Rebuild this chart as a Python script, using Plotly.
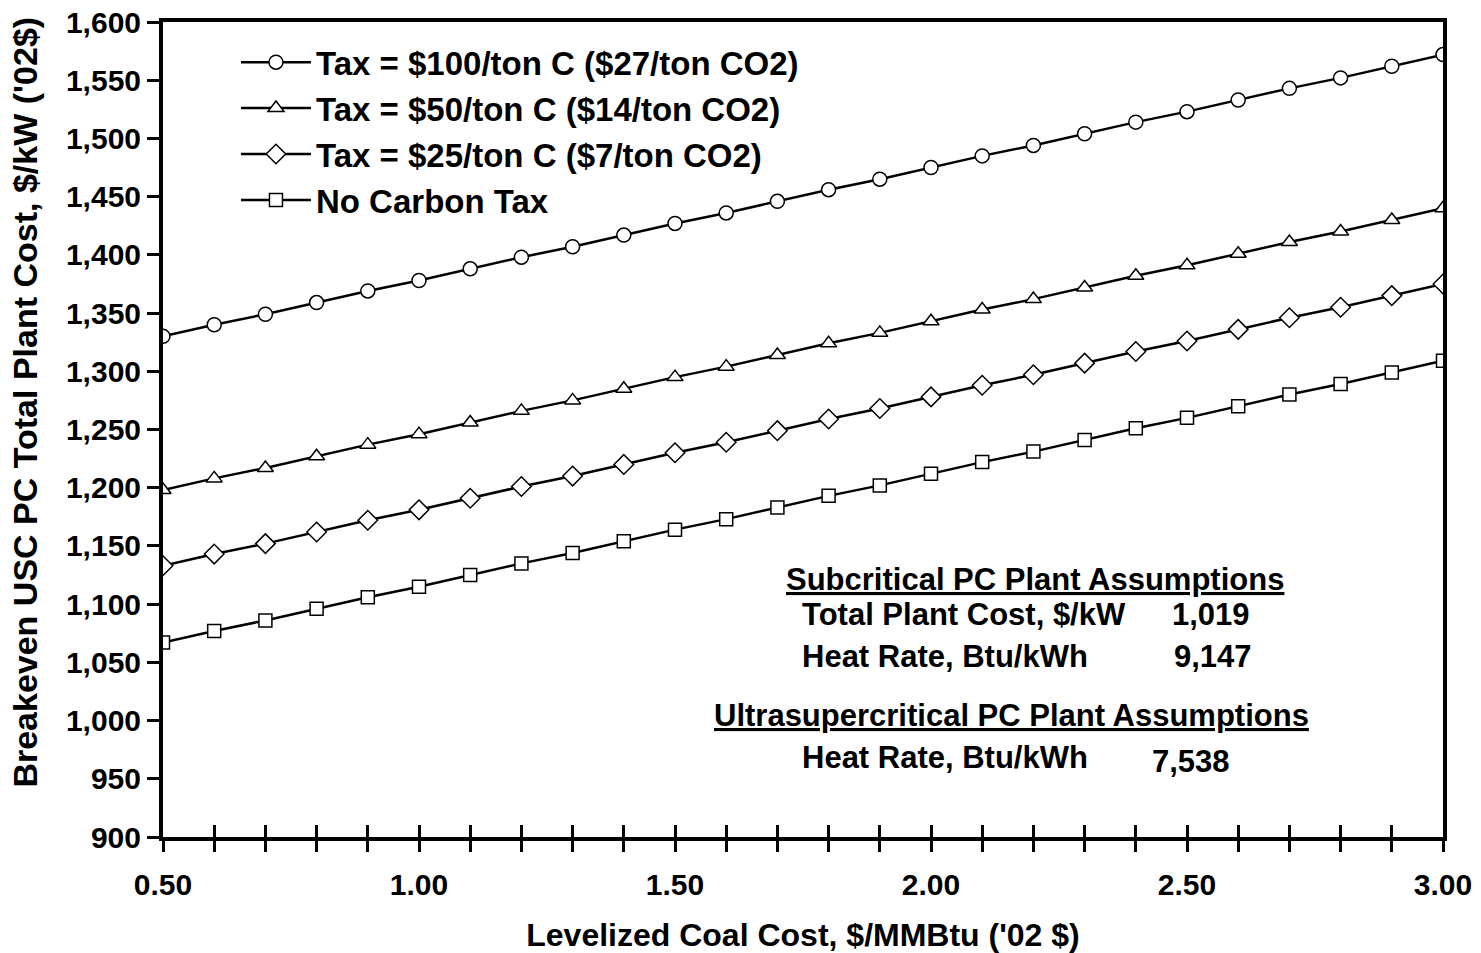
import plotly.graph_objects as go

coal_cost = [0.5, 0.6, 0.7, 0.8, 0.9, 1.0, 1.1, 1.2, 1.3, 1.4, 1.5, 1.6, 1.7,
             1.8, 1.9, 2.0, 2.1, 2.2, 2.3, 2.4, 2.5, 2.6, 2.7, 2.8, 2.9, 3.0]

tax_100 = [1330, 1340, 1349, 1359, 1369, 1378, 1388, 1398, 1407, 1417, 1427, 1436, 1446,
           1456, 1465, 1475, 1485, 1494, 1504, 1514, 1523, 1533, 1543, 1552, 1562, 1572]
tax_50 = [1198, 1208, 1217, 1227, 1237, 1246, 1256, 1266, 1275, 1285, 1295, 1304, 1314,
          1324, 1333, 1343, 1353, 1362, 1372, 1382, 1391, 1401, 1411, 1420, 1430, 1440]
tax_25 = [1133, 1143, 1152, 1162, 1172, 1181, 1191, 1201, 1210, 1220, 1230, 1239, 1249,
          1259, 1268, 1278, 1288, 1297, 1307, 1317, 1326, 1336, 1346, 1355, 1365, 1375]
no_tax = [1067, 1077, 1086, 1096, 1106, 1115, 1125, 1135, 1144, 1154, 1164, 1173, 1183,
          1193, 1202, 1212, 1222, 1231, 1241, 1251, 1260, 1270, 1280, 1289, 1299, 1309]

series_names = ["Tax = $100/ton C ($27/ton CO2)", "Tax = $50/ton C ($14/ton CO2)",
                "Tax = $25/ton C ($7/ton CO2)", "No Carbon Tax"]
series_values = [tax_100, tax_50, tax_25, no_tax]
series_symbols = ["circle", "triangle-up", "diamond", "square"]
series_sizes = [14, 14, 15, 13]

x_tickvals = [0.5, 1.0, 1.5, 2.0, 2.5, 3.0]
x_ticktext = ["0.50", "1.00", "1.50", "2.00", "2.50", "3.00"]

FONT = "Liberation Sans, Arial, sans-serif"

fig = go.Figure()
for i, (name, vals, sym, sz) in enumerate(zip(series_names, series_values, series_symbols, series_sizes)):
    fig.add_trace(go.Scatter(
        x=coal_cost, y=vals, name=name, mode="lines+markers",
        legendgroup=f"g{i}",
        line=dict(color="black", width=2.5),
        marker=dict(symbol=sym, size=sz, color="white",
                    line=dict(color="black", width=1.5)),
    ))

# invisible trace on overlay axis for inside ticks
fig.add_trace(go.Scatter(x=[coal_cost[0]], y=[no_tax[0]], xaxis="x2", mode="markers",
                         marker=dict(opacity=0), showlegend=False, hoverinfo="skip"))

fig.update_layout(
    template="none",
    width=1481, height=953,
    margin=dict(l=163, r=38, t=22, b=116, autoexpand=False),
    paper_bgcolor="white", plot_bgcolor="white",
    font=dict(family=FONT, color="black", size=21, weight="bold"),
    showlegend=True,
    legend=dict(x=0.057, y=0.985, xanchor="left", yanchor="top",
                font=dict(size=33, family=FONT, weight="bold"),
                itemwidth=70, tracegroupgap=0, bgcolor="rgba(0,0,0,0)"),
    xaxis=dict(range=[0.5, 3.0], tickmode="array", tickvals=x_tickvals, ticktext=x_ticktext,
               automargin=False,
               showline=True, linecolor="black", linewidth=4, mirror=True,
               ticks="outside", ticklen=11, tickwidth=3, tickcolor="black",
               minor=dict(dtick=0.1, ticks="outside", ticklen=11, tickwidth=3, tickcolor="black"),
               showgrid=False, zeroline=False, ticklabelstandoff=7,
               tickfont=dict(size=30, family=FONT, weight="bold"),
               title=dict(text="Levelized Coal Cost, $/MMBtu ('02 $)", standoff=26,
                          font=dict(size=32, family=FONT, weight="bold"))),
    xaxis2=dict(range=[0.5, 3.0], overlaying="x", anchor="y", side="bottom", automargin=False,
                showticklabels=False, showgrid=False, zeroline=False, showline=False,
                dtick=0.1, tick0=0.5, ticks="inside", ticklen=12, tickwidth=3, tickcolor="black"),
    yaxis=dict(range=[900, 1600], dtick=50, tickformat=",", automargin=False,
               showline=True, linecolor="black", linewidth=4, mirror=True,
               ticks="outside", ticklen=12, tickwidth=3, tickcolor="black",
               showgrid=False, zeroline=False,
               tickfont=dict(size=30, family=FONT, weight="bold")),
)

# y-axis title (placed slightly above the plot centre as in the reference)
fig.add_annotation(text="Breakeven USC PC Total Plant Cost, $/kW ('02$)", textangle=-90,
                   xref="paper", yref="paper", x=-0.1078, y=0.533,
                   xanchor="center", yanchor="middle", showarrow=False,
                   font=dict(size=34, family=FONT, weight="bold", color="black"))

ann_font = dict(size=31, family=FONT, weight="bold", color="black")
anns = [
    ("<u>Subcritical PC Plant Assumptions</u>", 2.203, 1121, "center"),
    ("Total Plant Cost, $/kW", 1.744, 1091, "left"),
    ("1,019", 2.467, 1091, "left"),
    ("Heat Rate, Btu/kWh", 1.744, 1055, "left"),
    ("9,147", 2.471, 1055, "left"),
    ("<u>Ultrasupercritical PC Plant Assumptions</u>", 2.158, 1004, "center"),
    ("Heat Rate, Btu/kWh", 1.744, 968, "left"),
    ("7,538", 2.428, 965, "left"),
]
for text, ax_, ay_, al in anns:
    fig.add_annotation(x=ax_, y=ay_, text=text, showarrow=False, xanchor=al, yanchor="middle",
                       font=ann_font, xref="x", yref="y")

fig.write_html("out.html")
